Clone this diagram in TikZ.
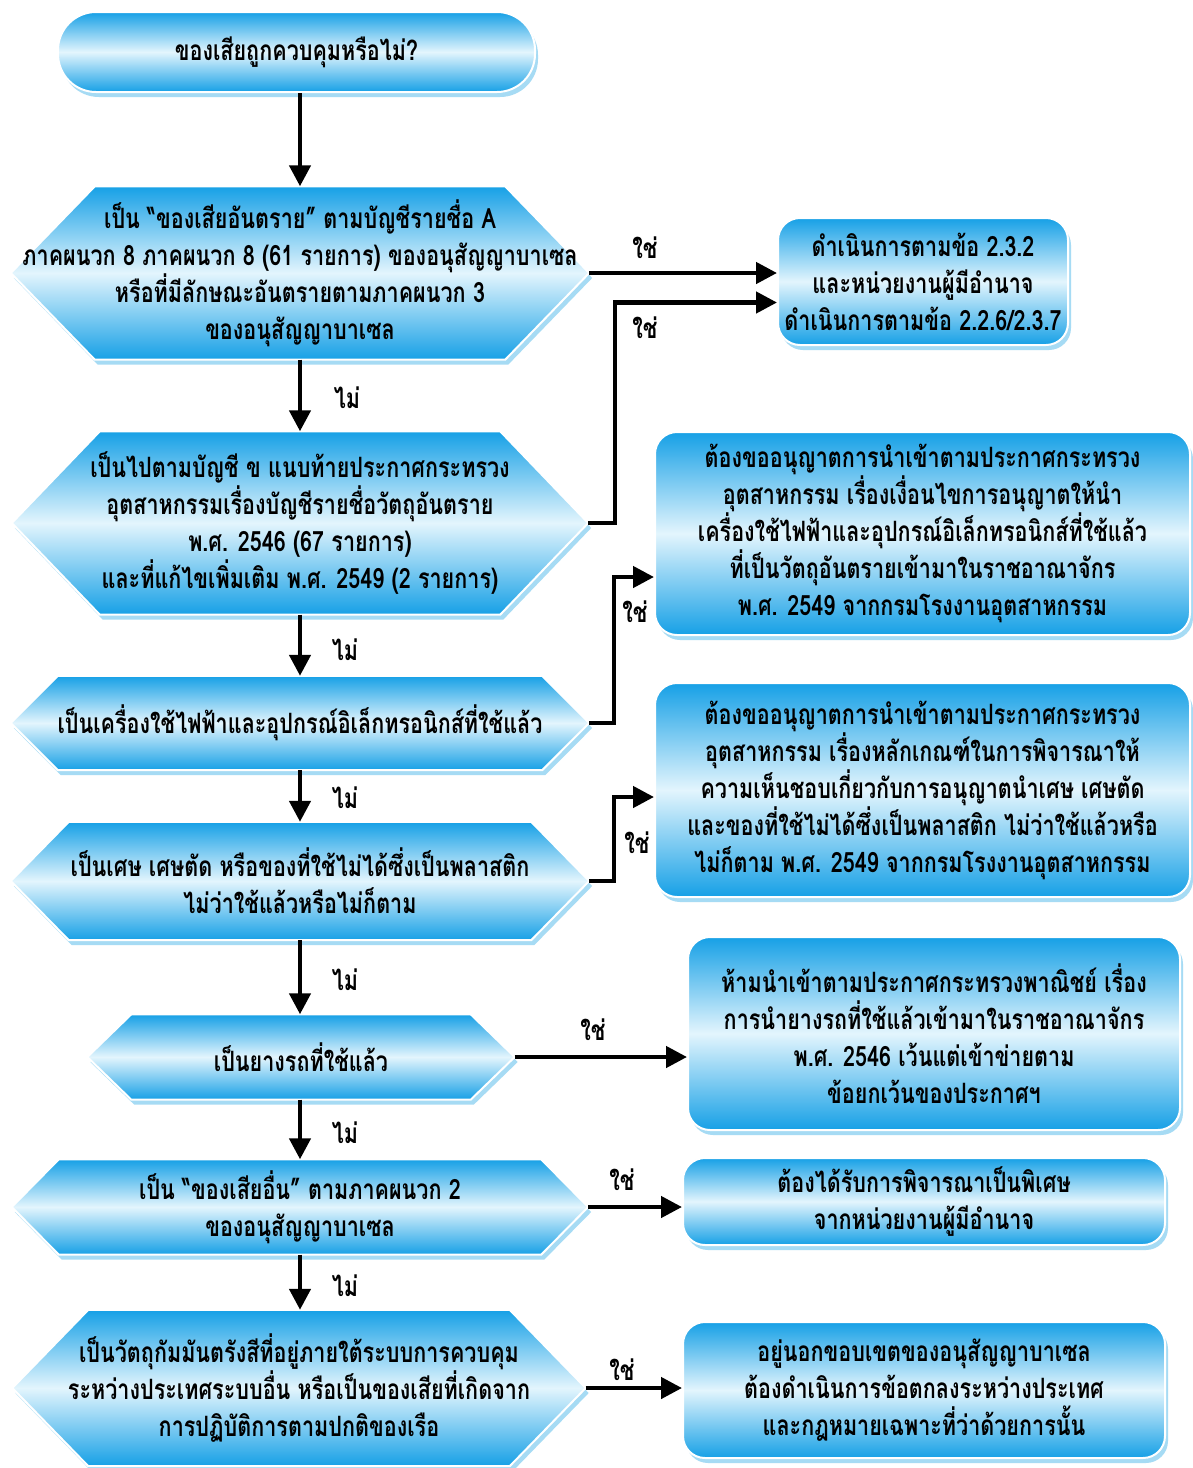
\documentclass[tikz,border=0pt]{standalone}
\usepackage{fontspec}
\newfontfamily\thaifont[Script=Thai,FakeStretch=0.77]{Loma}
\usetikzlibrary{arrows.meta,shadows}
\pgfdeclarelayer{bgwhite}
\pgfdeclarelayer{background}
\pgfsetlayers{bgwhite,background,main}
\definecolor{bx}{HTML}{16A0E6}
\definecolor{lt}{HTML}{E3F5FD}
\definecolor{sh}{HTML}{A6DBF4}
\newcommand\hexbg[2]{\begin{pgfonlayer}{background}
  \path[boxfill] (#1.west) -- ([xshift=#2]#1.north west) -- ([xshift=-#2]#1.north east) -- (#1.east)
    -- ([xshift=-#2]#1.south east) -- ([xshift=#2]#1.south west) -- cycle;
  \end{pgfonlayer}}
\begin{document}
\begin{tikzpicture}[x=1pt,y=-1pt,
  txt/.style={font=\thaifont\bfseries\fontsize{28}{37}\selectfont, align=center, text=black},
  boxfill/.style={draw=white, line width=2pt, top color=bx, bottom color=bx, middle color=lt,
    drop shadow={fill=sh, shadow xshift=3pt, shadow yshift=-5pt, opacity=1}},
  hexa/.style={rectangle, txt, inner sep=0pt},
  rbox/.style={rectangle, rounded corners=22pt, boxfill, txt, inner sep=0pt},
  lab/.style={txt, inner sep=0pt},
  arr/.style={line width=4.5pt, -{Triangle[length=21pt,width=21pt]}}]
\useasboundingbox (0,0) rectangle (1193,1468);
\begin{pgfonlayer}{bgwhite}
\fill[white] (0,0) rectangle (1193,1468);
\end{pgfonlayer}

\node[rbox, rounded corners=38pt, minimum width=477pt, minimum height=80pt] (top) at (296.5,52) {ของเสียถูกควบคุมหรือไม่?};

\node[hexa, minimum width=578pt, minimum height=173pt] (h1) at (300,273) {เป็น “ของเสียอันตราย” ตามบัญชีรายชื่อ A\\ภาคผนวก 8 ภาคผนวก 8 (61 รายการ) ของอนุสัญญาบาเซล\\หรือที่มีลักษณะอันตรายตามภาคผนวก 3\\ของอนุสัญญาบาเซล};
\hexbg{h1}{84pt}
\node[hexa, minimum width=576pt, minimum height=183pt] (h2) at (300,523) {เป็นไปตามบัญชี ข แนบท้ายประกาศกระทรวง\\อุตสาหกรรมเรื่องบัญชีรายชื่อวัตถุอันตราย\\พ.ศ. 2546 (67 รายการ)\\และที่แก้ไขเพิ่มเติม พ.ศ. 2549 (2 รายการ)};
\hexbg{h2}{88pt}
\node[hexa, minimum width=578pt, minimum height=94pt] (h3) at (300,723) {เป็นเครื่องใช้ไฟฟ้าและอุปกรณ์อิเล็กทรอนิกส์ที่ใช้แล้ว};
\hexbg{h3}{47pt}
\node[hexa, minimum width=578pt, minimum height=118pt] (h4) at (300,881) {เป็นเศษ เศษตัด หรือของที่ใช้ไม่ได้ซึ่งเป็นพลาสติก\\ไม่ว่าใช้แล้วหรือไม่ก็ตาม};
\hexbg{h4}{58pt}
\node[hexa, minimum width=427pt, minimum height=85pt] (h5) at (301,1057) {เป็นยางรถที่ใช้แล้ว};
\hexbg{h5}{44pt}
\node[hexa, minimum width=576pt, minimum height=95pt] (h6) at (300,1207) {เป็น “ของเสียอื่น” ตามภาคผนวก 2\\ของอนุสัญญาบาเซล};
\hexbg{h6}{47pt}
\node[hexa, minimum width=573pt, minimum height=156pt] (h7) at (299,1388) {เป็นวัตถุกัมมันตรังสีที่อยู่ภายใต้ระบบการควบคุม\\ระหว่างประเทศระบบอื่น หรือเป็นของเสียที่เกิดจาก\\การปฏิบัติการตามปกติของเรือ};
\hexbg{h7}{76pt}

\node[rbox, minimum width=290pt, minimum height=127pt] (r1) at (923,281.5) {ดำเนินการตามข้อ 2.3.2\\และหน่วยงานผู้มีอำนาจ\\ดำเนินการตามข้อ 2.2.6/2.3.7};
\node[rbox, minimum width=535pt, minimum height=203pt] (r2) at (922.5,533.5) {ต้องขออนุญาตการนำเข้าตามประกาศกระทรวง\\อุตสาหกรรม เรื่องเงื่อนไขการอนุญาตให้นำ\\เครื่องใช้ไฟฟ้าและอุปกรณ์อิเล็กทรอนิกส์ที่ใช้แล้ว\\ที่เป็นวัตถุอันตรายเข้ามาในราชอาณาจักร\\พ.ศ. 2549 จากกรมโรงงานอุตสาหกรรม};
\node[rbox, minimum width=535pt, minimum height=214pt] (r3) at (922.5,790) {ต้องขออนุญาตการนำเข้าตามประกาศกระทรวง\\อุตสาหกรรม เรื่องหลักเกณฑ์ในการพิจารณาให้\\ความเห็นชอบเกี่ยวกับการอนุญาตนำเศษ เศษตัด\\และของที่ใช้ไม่ได้ซึ่งเป็นพลาสติก ไม่ว่าใช้แล้วหรือ\\ไม่ก็ตาม พ.ศ. 2549 จากกรมโรงงานอุตสาหกรรม};
\node[rbox, minimum width=492pt, minimum height=193pt] (r4) at (934,1033.5) {ห้ามนำเข้าตามประกาศกระทรวงพาณิชย์ เรื่อง\\การนำยางรถที่ใช้แล้วเข้ามาในราชอาณาจักร\\พ.ศ. 2546 เว้นแต่เข้าข่ายตาม\\ข้อยกเว้นของประกาศฯ};
\node[rbox, minimum width=482pt, minimum height=87pt] (r5) at (924,1201.5) {ต้องได้รับการพิจารณาเป็นพิเศษ\\จากหน่วยงานผู้มีอำนาจ};
\node[rbox, minimum width=482pt, minimum height=136pt] (r6) at (924,1390) {อยู่นอกขอบเขตของอนุสัญญาบาเซล\\ต้องดำเนินการข้อตกลงระหว่างประเทศ\\และกฎหมายเฉพาะที่ว่าด้วยการนั้น};

% vertical "no" arrows
\draw[arr] (top.south -| h1.north) -- (h1.north);
\draw[arr] (h1.south) -- (h2.north);
\draw[arr] (h2.south) -- (h3.north);
\draw[arr] (h3.south) -- (h4.north);
\draw[arr] (h4.south) -- (h4.south |- h5.north);
\draw[arr] (h5.south -| h6.north) -- (h6.north);
\draw[arr] (h6.south) -- (h6.south |- h7.north);
\node[lab] (n1) at (347,398) {ไม่};
\node[lab] (n2) at (345,650) {ไม่};
\node[lab] (n3) at (345,798) {ไม่};
\node[lab] (n4) at (345,980) {ไม่};
\node[lab] (n5) at (345,1133) {ไม่};
\node[lab] (n6) at (345,1286) {ไม่};

% "yes" arrows
\draw[arr] (h1.east) -- (h1.east -| r1.west);
\draw[arr] (h2.east) -- ++(27,0) |- ([yshift=-21pt]r1.west);
\draw[arr] (h3.east) -- ++(25,0) |- ([yshift=-43.5pt]r2.west);
\draw[arr] (h4.east) -- ++(25,0) |- ([yshift=-7pt]r3.west);
\draw[arr] (h5.east) -- (h5.east -| r4.west);
\draw[arr] (h6.east) -- (h6.east -| r5.west);
\draw[arr] (h7.east) -- (h7.east -| r6.west);
\node[lab] (y1) at (645,248) {ใช่};
\node[lab] (y2) at (645,328) {ใช่};
\node[lab] (y3) at (635,612) {ใช่};
\node[lab] (y4) at (637,843) {ใช่};
\node[lab] (y5) at (593,1030) {ใช่};
\node[lab] (y6) at (622,1180) {ใช่};
\node[lab] (y7) at (622,1370) {ใช่};
\end{tikzpicture}
\end{document}
